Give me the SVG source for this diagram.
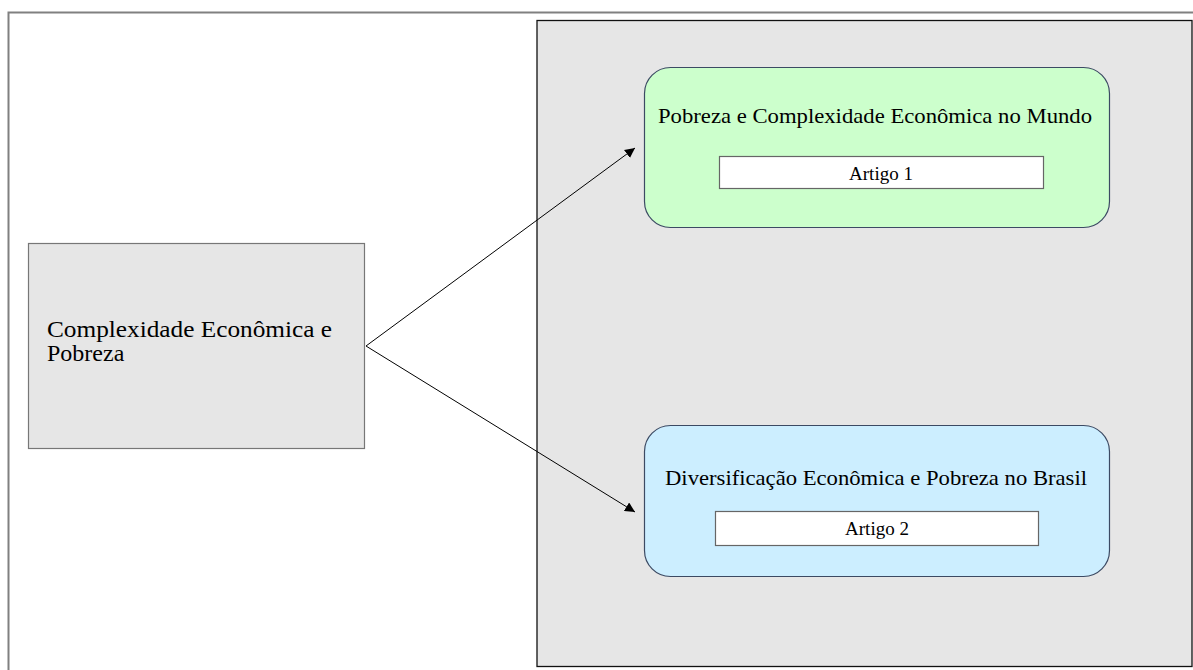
<svg xmlns="http://www.w3.org/2000/svg" width="1193" height="670" viewBox="0 0 1193 670">
<style>
  .card { stroke: #3c4a63; stroke-width: 1.2; }
  .tag { fill: #fff; stroke: #666; stroke-width: 1.2; }
  .conn { stroke: #000; stroke-width: 1; fill: none; marker-end: url(#arr); }
</style>
<defs>
  <marker id="arr" viewBox="0 0 10 10" refX="10" refY="5" markerWidth="10" markerHeight="10" markerUnits="userSpaceOnUse" orient="auto">
    <path d="M0,0 L10,5 L0,10 z" fill="#000"/>
  </marker>
</defs>
<rect width="1193" height="670" fill="#fff"/>
<g id="frame">
  <rect x="8.5" y="12.5" width="1200" height="680" fill="#fff" stroke="#808080" stroke-width="2"/>
</g>
<g id="panel">
  <rect x="537" y="20.5" width="655" height="646" fill="#e6e6e6" stroke="#111" stroke-width="1.3"/>
</g>
<g font-family="'Liberation Serif', 'DejaVu Serif', serif" fill="#000">
<g id="source">
  <rect x="28.5" y="243.5" width="336" height="205" fill="#e6e6e6" stroke="#777" stroke-width="1.2"/>
  <text x="47" y="337" font-size="24" textLength="285" lengthAdjust="spacingAndGlyphs">Complexidade Econômica e</text>
  <text x="47" y="361" font-size="24">Pobreza</text>
</g>
<g id="node1">
  <rect class="card" x="644.5" y="67.5" width="465" height="160" rx="26" fill="#ccffcc"/>
  <text x="658" y="123" font-size="22" textLength="434" lengthAdjust="spacingAndGlyphs">Pobreza e Complexidade Econômica no Mundo</text>
  <rect class="tag" x="719.5" y="156.5" width="324" height="32"/>
  <text x="881" y="180" font-size="19" text-anchor="middle">Artigo 1</text>
</g>
<g id="node2">
  <rect class="card" x="644.5" y="425.5" width="465" height="151" rx="26" fill="#cceeff"/>
  <text x="665" y="485" font-size="22" textLength="422" lengthAdjust="spacingAndGlyphs">Diversificação Econômica e Pobreza no Brasil</text>
  <rect class="tag" x="715.5" y="511.5" width="323" height="34"/>
  <text x="877" y="535" font-size="19" text-anchor="middle">Artigo 2</text>
</g>
</g>
<g id="connectors">
  <line class="conn" x1="366" y1="346" x2="635" y2="148"/>
  <line class="conn" x1="366" y1="346" x2="635" y2="512"/>
</g>
</svg>
